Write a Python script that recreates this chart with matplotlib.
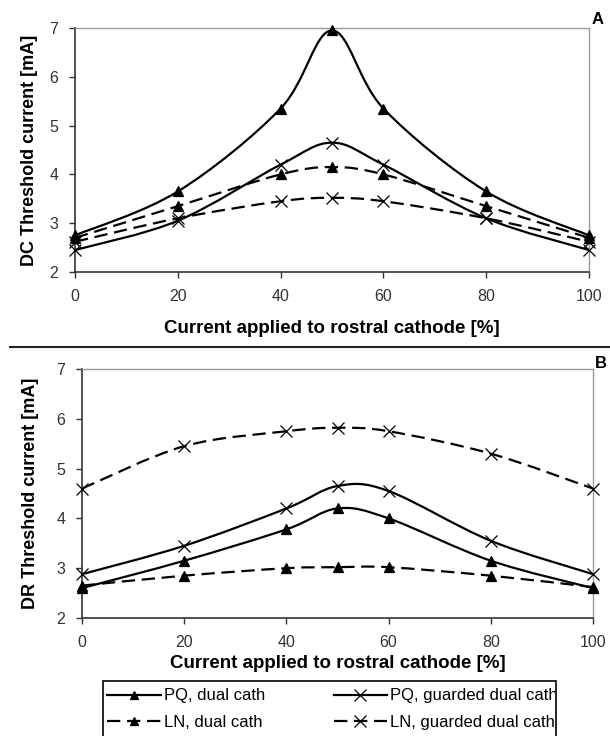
import numpy as np
import matplotlib
matplotlib.use('Agg')
import matplotlib.pyplot as plt
from matplotlib.path import Path
from matplotlib.patches import PathPatch, Rectangle
from matplotlib.lines import Line2D
from matplotlib.transforms import Bbox, TransformedBbox

# data
x = [0, 20, 40, 50, 60, 80, 100]

# panel A: DC threshold
a_pq_dual = [2.75, 3.65, 5.35, 6.95, 5.35, 3.65, 2.75]
a_pq_guard = [2.45, 3.05, 4.2, 4.65, 4.2, 3.1, 2.45]
a_ln_dual = [2.7, 3.35, 4.0, 4.15, 4.0, 3.35, 2.7]
a_ln_guard = [2.62, 3.1, 3.45, 3.52, 3.45, 3.1, 2.62]

# panel B: DR threshold
b_pq_dual = [2.6, 3.15, 3.78, 4.2, 4.0, 3.15, 2.6]
b_pq_guard = [2.88, 3.45, 4.2, 4.65, 4.55, 3.55, 2.88]
b_ln_dual = [2.65, 2.85, 3.0, 3.02, 3.02, 2.85, 2.62]
b_ln_guard = [4.6, 5.45, 5.75, 5.82, 5.75, 5.3, 4.6]

labels = ['PQ, dual cath', 'PQ, guarded dual cath',
          'LN, dual cath', 'LN, guarded dual cath']
xticks = [0, 20, 40, 60, 80, 100]
yticks = [2, 3, 4, 5, 6, 7]

FONT = ['Liberation Sans', 'DejaVu Sans']


def smooth_path(xs, ys):
    # excel-like smoothed line: catmull-rom segments as cubic beziers
    p = np.column_stack([xs, ys]).astype(float)
    n = len(p)
    verts = [p[0]]
    codes = [Path.MOVETO]
    for i in range(n - 1):
        p0 = p[max(i - 1, 0)]
        p1 = p[i]
        p2 = p[i + 1]
        p3 = p[min(i + 2, n - 1)]
        c1 = p1 + (p2 - p0) / 6.0
        c2 = p2 - (p3 - p1) / 6.0
        verts += [c1, c2, p2]
        codes += [Path.CURVE4] * 3
    return Path(verts, codes)


styles = [
    dict(ls='-', marker='^', ms=7, mfc='black'),
    dict(ls='-', marker='x', ms=9, mfc='none'),
    dict(ls=(0, (6, 3)), marker='^', ms=7, mfc='black'),
    dict(ls=(0, (6, 3)), marker='x', ms=9, mfc='none'),
]


def draw_panel(ax, series, ylabel):
    for ys, st in zip(series, styles):
        patch = PathPatch(smooth_path(x, ys), facecolor='none', edgecolor='black',
                          lw=1.6, ls=st['ls'], clip_on=False, zorder=2)
        ax.add_patch(patch)
        ax.plot(x, ys, ls='none', marker=st['marker'], ms=st['ms'],
                mfc=st['mfc'], mec='black', mew=0.9, color='black',
                clip_on=False, zorder=3)
    ax.set_xlim(0, 100)
    ax.set_ylim(2, 7)
    ax.set_xticks(xticks)
    ax.set_yticks(yticks)
    ax.tick_params(direction='out', length=4, width=1, color='#333333',
                   labelcolor='#333333', labelsize=11.5, pad=8)
    for t in ax.get_xticklabels() + ax.get_yticklabels():
        t.set_family(FONT)
    for s in ['left', 'bottom']:
        ax.spines[s].set_color('#333333')
        ax.spines[s].set_linewidth(1.2)
    for s in ['top', 'right']:
        ax.spines[s].set_color('#999999')
        ax.spines[s].set_linewidth(1.0)
    ax.set_ylabel(ylabel, family=FONT, fontweight='bold', fontsize=13)
    ax.set_xlabel('Current applied to rostral cathode [%]', family=FONT,
                  fontweight='bold', fontsize=13.5)


fig = plt.figure(figsize=(6.1, 7.36), dpi=100)

axA = fig.add_axes([75 / 610, 1 - 272 / 736, 514 / 610, 244 / 736])
draw_panel(axA, [a_pq_dual, a_pq_guard, a_ln_dual, a_ln_guard],
           'DC Threshold current [mA]')
axA.yaxis.set_label_coords(-0.072, 0.5)
axA.xaxis.set_label_coords(0.5, -0.195)

axB = fig.add_axes([82 / 610, 1 - 618 / 736, 511 / 610, 249 / 736])
draw_panel(axB, [b_pq_dual, b_pq_guard, b_ln_dual, b_ln_guard],
           'DR Threshold current [mA]')
axB.yaxis.set_label_coords(-0.084, 0.5)
axB.xaxis.set_label_coords(0.5, -0.148)

fig.text(598 / 610, 1 - 20 / 736, 'A', family=FONT, fontweight='bold',
         fontsize=12, ha='center', va='center')
fig.text(601 / 610, 1 - 364 / 736, 'B', family=FONT, fontweight='bold',
         fontsize=12, ha='center', va='center')

# separator between panels
fig.add_artist(Line2D([10 / 610, 1.0], [1 - 347 / 736, 1 - 347 / 736],
                      transform=fig.transFigure, color='#222222', lw=1.5))

# legend
handles = [Line2D([], [], color='black', lw=1.6, ls=st['ls'], marker=st['marker'],
                  ms=st['ms'] - 1, mfc=st['mfc'], mec='black', mew=0.9)
           for st in styles]
order = [0, 2, 1, 3]
leg = fig.legend([handles[i] for i in order], [labels[i] for i in order],
                 ncol=2, loc='upper left',
                 bbox_to_anchor=(104 / 610, 1 - 685 / 736),
                 frameon=False, prop={'family': FONT, 'size': 12},
                 handlelength=3.2, handletextpad=0.2, columnspacing=4.1,
                 labelspacing=0.7, borderpad=0.2, borderaxespad=0)
box = Bbox.from_extents(103 / 610, -0.05, 556 / 610, 1 - 681 / 736)
fig.add_artist(Rectangle((box.x0, box.y0), box.width, box.height,
                         transform=fig.transFigure, fill=False,
                         edgecolor='black', lw=1.2))
clip = TransformedBbox(Bbox.from_extents(103 / 610, 0, 555 / 610, 1 - 681 / 736),
                       fig.transFigure)
for t in leg.get_texts():
    t.set_clip_box(clip)
    t.set_clip_on(True)

fig.savefig('out.png', dpi=100)
